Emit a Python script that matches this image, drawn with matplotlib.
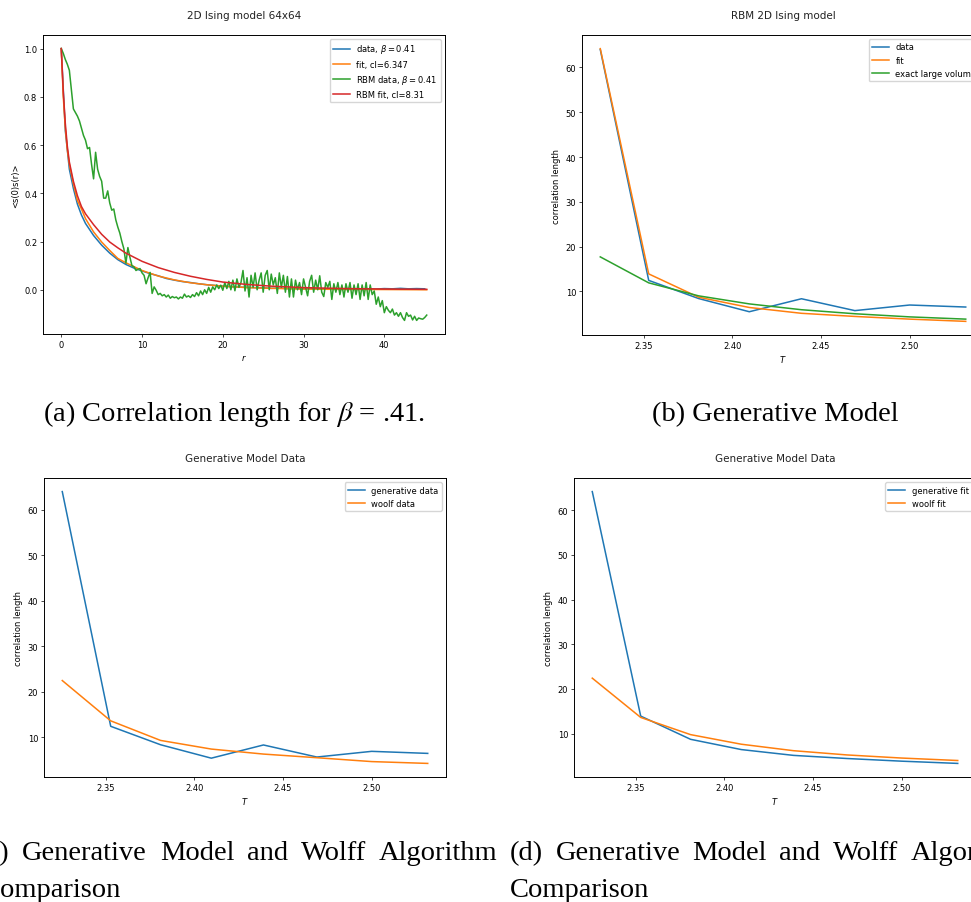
import numpy as np
import matplotlib
matplotlib.use("Agg")
import matplotlib.pyplot as plt

# ---- panel (a): correlation function, 2D Ising 64x64 ----
r_data = [0, 0.5, 1, 1.5, 2, 2.5, 3, 3.5, 4, 5, 6, 7, 8, 9, 10, 11, 12, 13, 14, 15,
          16, 17, 18, 19, 20, 21, 22, 23, 24, 25, 26, 27, 28, 29, 30, 31, 32, 33,
          34, 35, 36, 37, 38, 39, 40, 41, 42, 43, 44, 45]
corr_data = [1.0, 0.66, 0.50, 0.42, 0.355, 0.31, 0.275, 0.25, 0.225, 0.185, 0.152,
             0.125, 0.105, 0.09, 0.078, 0.067, 0.058, 0.047, 0.04, 0.034, 0.03,
             0.025, 0.021, 0.018, 0.015, 0.013, 0.011, 0.010, 0.009, 0.008, 0.006,
             0.007, 0.005, 0.006, 0.004, 0.005, 0.004, 0.005, 0.003, 0.004, 0.003,
             0.004, 0.004, 0.003, 0.005, 0.004, 0.006, 0.004, 0.005, 0.004]

r_fit = [0, 0.25, 0.5, 0.75, 1, 1.5, 2, 2.5, 3, 4, 5, 6, 7, 8, 10, 12, 14, 16, 18,
         20, 23, 26, 30, 35, 40, 45.25]
corr_fit = [1.0, 0.80, 0.67, 0.58, 0.52, 0.44, 0.37, 0.335, 0.295, 0.24, 0.198,
            0.163, 0.13, 0.112, 0.08, 0.057, 0.041, 0.029, 0.021, 0.015, 0.009,
            0.006, 0.003, 0.0015, 0.001, 0.0]
rbm_fit = [1.0, 0.82, 0.69, 0.595, 0.53, 0.45, 0.39, 0.345, 0.315, 0.27, 0.23,
           0.198, 0.174, 0.152, 0.118, 0.092, 0.072, 0.056, 0.043, 0.032, 0.022,
           0.015, 0.009, 0.005, 0.003, 0.002]

rbm_data = [
    1.00, 0.98, 0.955, 0.935, 0.91, 0.83, 0.75, 0.735, 0.72, 0.70,
    0.67, 0.64, 0.62, 0.585, 0.59, 0.52, 0.46, 0.57, 0.50, 0.47,
    0.45, 0.38, 0.38, 0.41, 0.36, 0.33, 0.335, 0.29, 0.26, 0.235,
    0.20, 0.17, 0.11, 0.175, 0.135, 0.10, 0.095, 0.08, 0.085, 0.088,
    0.07, 0.06, 0.025, 0.05, 0.072, -0.015, 0.012, -0.002, -0.02, -0.015,
    -0.025, -0.02, -0.03, -0.022, -0.035, -0.028, -0.033, -0.03, -0.038, -0.03,
    -0.035, -0.018, -0.03, -0.025, -0.032, -0.02, -0.028, -0.012, -0.025, -0.005,
    -0.02, 0.0, -0.015, 0.01, -0.01, 0.012, 0.0, 0.02, 0.005, 0.019,
    -0.002, 0.03, 0.005, 0.035, 0.0, 0.04, -0.004, 0.045, 0.01, 0.03,
    0.08, -0.005, 0.05, -0.03, 0.06, 0.01, 0.07, 0.0, 0.04, 0.07,
    -0.01, 0.06, 0.08, 0.0, 0.065, 0.02, 0.05, -0.015, 0.07, 0.01,
    0.06, -0.01, 0.055, -0.03, 0.045, -0.03, 0.04, 0.0, 0.03, -0.02,
    0.045, 0.01, -0.025, 0.035, 0.06, -0.01, 0.04, 0.0, 0.058, -0.01,
    -0.028, 0.03, 0.01, 0.035, -0.04, 0.025, -0.01, 0.03, -0.02, 0.02,
    -0.03, 0.025, -0.01, 0.03, -0.035, 0.02, -0.02, 0.025, -0.04, 0.02,
    -0.025, 0.03, -0.04, 0.02, -0.02, -0.005, -0.06, -0.03, -0.07, -0.045,
    -0.095, -0.07, -0.085, -0.095, -0.08, -0.105, -0.095, -0.11, -0.095, -0.115,
    -0.127, -0.095, -0.11, -0.105, -0.125, -0.11, -0.127, -0.117, -0.12, -0.122,
    -0.115, -0.105,
]
r_rbm = np.linspace(0, 45.25, len(rbm_data))  # sampled every 0.25

# ---- panels (b)-(d): correlation length vs temperature ----
T = [2.3256, 2.3529, 2.3810, 2.4096, 2.4390, 2.4691, 2.5000, 2.5316]
gen_data = [64.0, 12.45, 8.4, 5.45, 8.35, 5.7, 6.95, 6.5]
gen_fit = [64.2, 13.9, 8.7, 6.4, 5.1, 4.4, 3.8, 3.3]
exact_large = [17.7, 11.9, 9.0, 7.2, 5.9, 5.0, 4.3, 3.8]
woolf_data = [22.5, 13.65, 9.35, 7.45, 6.35, 5.55, 4.7, 4.3]
woolf_fit = [22.4, 13.6, 9.75, 7.6, 6.15, 5.2, 4.5, 3.95]

W, H = 971, 903
fig = plt.figure(figsize=(W / 100, H / 100), dpi=100)


def px_rect(l, t, r, b):
    return [l / W, 1 - b / H, (r - l) / W, (b - t) / H]


def style(ax, title, xlabel, ylabel):
    ax.set_title(title, fontsize=7.5, pad=12, color="#222222")
    ax.set_xlabel(xlabel, fontsize=6, labelpad=2)
    ax.set_ylabel(ylabel, fontsize=6, labelpad=3)
    ax.tick_params(labelsize=6, length=2.2, width=0.5, pad=2)
    for s in ax.spines.values():
        s.set_linewidth(0.7)


lw = 1.1

# (a)
ax = fig.add_axes(px_rect(43, 36, 445, 335))
ax.plot(r_data, corr_data, lw=lw, label=r"data, $\beta = 0.41$")
ax.plot(r_fit, corr_fit, lw=lw, label="fit, cl=6.347")
ax.plot(r_rbm, rbm_data, lw=lw, label=r"RBM data, $\beta = 0.41$")
ax.plot(r_fit, rbm_fit, lw=lw, label="RBM fit, cl=8.31")
style(ax, "2D Ising model 64x64", "$r$", "<s(0)s(r)>")
ax.legend(fontsize=6, loc="upper right")

# (b)
ax = fig.add_axes(px_rect(582, 36, 984, 336))
ax.plot(T, gen_data, lw=lw, label="data")
ax.plot(T, gen_fit, lw=lw, label="fit")
ax.plot(T, exact_large, lw=lw, label="exact large volume")
style(ax, "RBM 2D Ising model", "$T$", "correlation length")
ax.legend(fontsize=6, loc="upper right")

# (c)
ax = fig.add_axes(px_rect(44, 479, 446, 778))
ax.plot(T, gen_data, lw=lw, label="generative data")
ax.plot(T, woolf_data, lw=lw, label="woolf data")
style(ax, "Generative Model Data", "$T$", "correlation length")
ax.legend(fontsize=6, loc="upper right")

# (d)
ax = fig.add_axes(px_rect(574, 479, 976, 778))
ax.plot(T, gen_fit, lw=lw, label="generative fit")
ax.plot(T, woolf_fit, lw=lw, label="woolf fit")
style(ax, "Generative Model Data", "$T$", "correlation length")
ax.legend(fontsize=6, loc="upper right")

# ---- sub-captions (LaTeX style, Times-like) ----
cap = dict(family="Liberation Serif", fontsize=20.5, va="baseline", math_fontfamily="stix")
fig.text(234 / W, 1 - 421 / H, r"(a) Correlation length for $\beta$ = .41.", ha="center", **cap)
fig.text(775 / W, 1 - 421 / H, "(b) Generative Model", ha="center", **cap)

renderer = fig.canvas.get_renderer()


def justify(words, x0, x1, y):
    # spread words across [x0, x1] like a justified LaTeX line
    texts = [fig.text(0, 1 - y / H, w, ha="left", **cap) for w in words]
    widths = [t.get_window_extent(renderer).width for t in texts]
    gap = (x1 - x0 - sum(widths)) / (len(words) - 1)
    x = x0
    for t, w in zip(texts, widths):
        t.set_x(x / W)
        x += w + gap


line1 = ["(c)", "Generative", "Model", "and", "Wolff", "Algorithm"]
justify(line1, -22, 497, 860)
fig.text(-18 / W, 1 - 897 / H, "Comparison", ha="left", **cap)
line1d = ["(d)", "Generative", "Model", "and", "Wolff", "Algorithm"]
justify(line1d, 510, 1029, 860)
fig.text(510 / W, 1 - 897 / H, "Comparison", ha="left", **cap)

fig.savefig("out.png", dpi=100)
